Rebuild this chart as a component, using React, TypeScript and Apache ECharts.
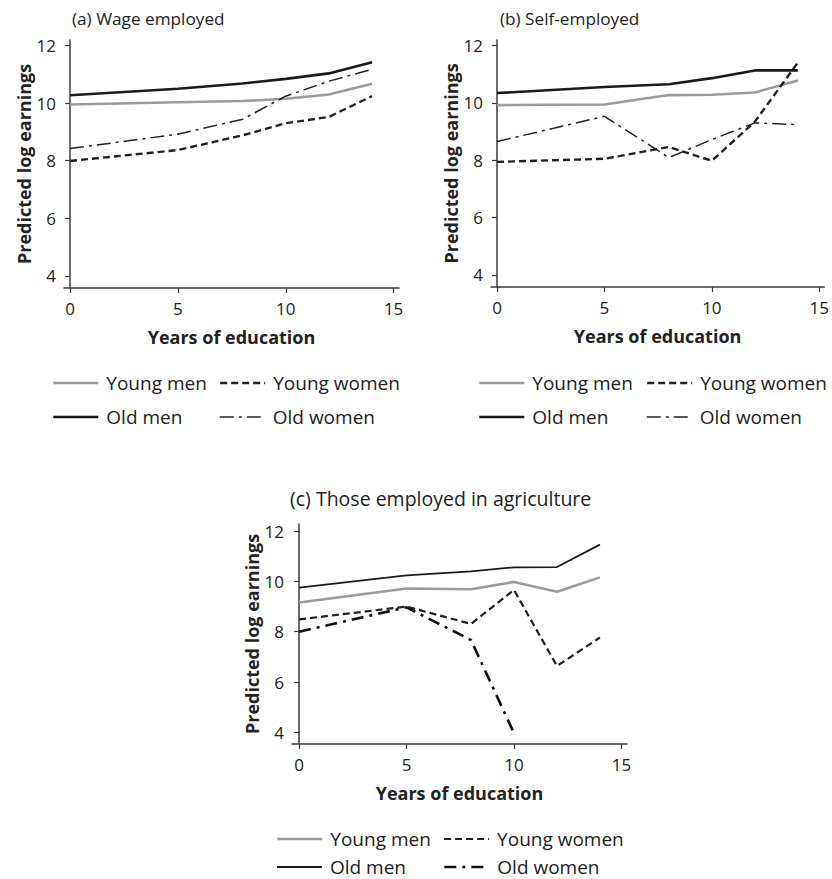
import React, { useEffect, useRef } from "react";
import * as echarts from "echarts";

const educationYears = [0, 5, 8, 10, 12, 14];
const xTickValues = [0, 5, 10, 15];
const yTickValues = [4, 6, 8, 10, 12];

const wageYoungMen = [9.95, 10.03, 10.07, 10.15, 10.3, 10.67];
const wageYoungWomen = [7.99, 8.37, 8.88, 9.3, 9.52, 10.24];
const wageOldMen = [10.27, 10.5, 10.68, 10.84, 11.03, 11.42];
const wageOldWomen = [8.42, 8.92, 9.44, 10.24, 10.76, 11.17];

const selfYoungMen = [9.92, 9.94, 10.27, 10.28, 10.36, 10.78];
const selfYoungWomen = [7.94, 8.05, 8.46, 7.98, 9.34, 11.4];
const selfOldMen = [10.34, 10.55, 10.65, 10.86, 11.13, 11.13];
const selfOldWomen = [8.65, 9.53, 8.09, 8.72, 9.3, 9.24];

const agriYoungMen = [9.16, 9.72, 9.69, 9.98, 9.59, 10.16];
const agriYoungWomen = [8.49, 9.0, 8.31, 9.66, 6.64, 7.77];
const agriOldMen = [9.75, 10.24, 10.4, 10.56, 10.57, 11.46];
const agriOldWomen: (number | null)[] = [8.0, 8.97, 7.67, 3.97, null, null];

const panelTitles = ["(a) Wage employed", "(b) Self-employed", "(c) Those employed in agriculture"];
const seriesNames = ["Young men", "Young women", "Old men", "Old women"];
const xAxisTitle = "Years of education";
const yAxisTitle = "Predicted log earnings";

const FONT = "Open Sans";

export default function App() {
  const ref = useRef<HTMLDivElement>(null);
  useEffect(() => {
    document.body.style.margin = "0";
    const chart = echarts.init(ref.current!, null, { renderer: "svg" });

    const grids = [
      { left: 64, top: 40, width: 335, height: 248, xmin: -0.28, xmax: 15.25, ymin: 3.58, ymax: 12.19 },
      { left: 491, top: 40, width: 334, height: 247, xmin: -0.28, xmax: 15.23, ymin: 3.58, ymax: 12.19 },
      { left: 292, top: 524, width: 335, height: 220, xmin: -0.33, xmax: 15.26, ymin: 3.54, ymax: 12.28 },
    ];

    const axisLine = { lineStyle: { color: "#3a3a3a", width: 1.5 } };
    const xAxis = grids.map((g, i) => ({
      type: "value",
      gridIndex: i,
      min: g.xmin,
      max: g.xmax,
      axisLine,
      axisTick: { show: true, length: 5, customValues: xTickValues, lineStyle: { color: "#3a3a3a", width: 1.2 } },
      axisLabel: { customValues: xTickValues, fontSize: 17, color: "#222", fontFamily: FONT, margin: 12 },
      splitLine: { show: false },
      name: xAxisTitle,
      nameLocation: "middle",
      nameGap: 40,
      nameTextStyle: { fontSize: 18, fontWeight: "bold", color: "#222", fontFamily: FONT },
    }));
    const yAxis = grids.map((g, i) => ({
      type: "value",
      gridIndex: i,
      min: g.ymin,
      max: g.ymax,
      axisLine,
      axisTick: { show: true, length: 5, customValues: yTickValues, lineStyle: { color: "#3a3a3a", width: 1.2 } },
      axisLabel: { customValues: yTickValues, fontSize: 17, color: "#222", fontFamily: FONT, margin: 8 },
      splitLine: { show: false },
      name: yAxisTitle,
      nameLocation: "middle",
      nameGap: 28,
      nameTextStyle: { fontSize: 18, fontWeight: "bold", color: "#222", fontFamily: FONT },
    }));

    const styles: Record<string, any>[] = [
      {
        "Young men": { color: "#9b9b9b", width: 2.6, type: "solid" },
        "Young women": { color: "#222", width: 2.4, type: [7, 4] },
        "Old men": { color: "#1a1a1a", width: 2.6, type: "solid" },
        "Old women": { color: "#222", width: 1.5, type: [14, 5, 3, 5] },
      },
      {
        "Young men": { color: "#9b9b9b", width: 2.6, type: "solid" },
        "Young women": { color: "#222", width: 2.4, type: [7, 4] },
        "Old men": { color: "#1a1a1a", width: 2.6, type: "solid" },
        "Old women": { color: "#222", width: 1.5, type: [14, 5, 3, 5] },
      },
      {
        "Young men": { color: "#9b9b9b", width: 2.6, type: "solid" },
        "Young women": { color: "#222", width: 2.2, type: [7, 4] },
        "Old men": { color: "#1a1a1a", width: 1.8, type: "solid" },
        "Old women": { color: "#111", width: 2.6, type: [12, 6, 3, 6] },
      },
    ];

    const panelData: Record<string, (number | null)[]>[] = [
      { "Young men": wageYoungMen, "Young women": wageYoungWomen, "Old men": wageOldMen, "Old women": wageOldWomen },
      { "Young men": selfYoungMen, "Young women": selfYoungWomen, "Old men": selfOldMen, "Old women": selfOldWomen },
      { "Young men": agriYoungMen, "Young women": agriYoungWomen, "Old men": agriOldMen, "Old women": agriOldWomen },
    ];

    const series: any[] = [];
    panelData.forEach((pd, i) => {
      seriesNames.forEach((name) => {
        series.push({
          type: "line",
          name,
          id: `${name}-${i}`,
          xAxisIndex: i,
          yAxisIndex: i,
          symbol: "none",
          data: educationYears.map((x, k) => [x, pd[name][k]]),
          lineStyle: styles[i][name],
          itemStyle: { color: styles[i][name].color },
          silent: true,
        });
      });
    });

    // legend placements: [panel, name, iconLeft, centerY]
    const legendSpecs: [number, string, number, number][] = [
      [0, "Young men", 52, 383],
      [0, "Young women", 219, 383],
      [0, "Old men", 52, 417],
      [0, "Old women", 219, 417],
      [1, "Young men", 478, 383],
      [1, "Young women", 646, 383],
      [1, "Old men", 478, 417],
      [1, "Old women", 646, 417],
      [2, "Young men", 276, 839],
      [2, "Young women", 443, 839],
      [2, "Old men", 276, 867],
      [2, "Old women", 443, 867],
    ];
    const legend = legendSpecs.map(([p, name, left, cy]) => ({
      data: [name],
      left,
      top: cy - 10,
      padding: 0,
      itemWidth: 45,
      itemHeight: 14,
      itemGap: 0,
      selectedMode: false,
      textStyle: { fontSize: 19, color: "#222", fontFamily: FONT, lineHeight: 20, padding: [0, 0, 0, 3] },
      lineStyle: styles[p][name],
      itemStyle: { color: "transparent", opacity: 0, borderWidth: 0 },
    }));

    const title = [
      { text: panelTitles[0], left: 72, top: 7, size: 17.2 },
      { text: panelTitles[1], left: 500, top: 7, size: 17.2 },
      { text: panelTitles[2], left: 290, top: 487, size: 19.5 },
    ].map((t) => ({
      text: t.text,
      left: t.left,
      top: t.top,
      padding: 0,
      textStyle: { fontSize: t.size, fontWeight: "normal", color: "#222", fontFamily: FONT, lineHeight: 22 },
    }));

    chart.setOption({
      animation: false,
      backgroundColor: "#fff",
      title,
      legend,
      grid: grids.map((g) => ({ left: g.left, top: g.top, width: g.width, height: g.height })),
      xAxis,
      yAxis,
      series,
    });
    return () => chart.dispose();
  }, []);
  return <div ref={ref} style={{ width: 832, height: 879 }} />;
}
